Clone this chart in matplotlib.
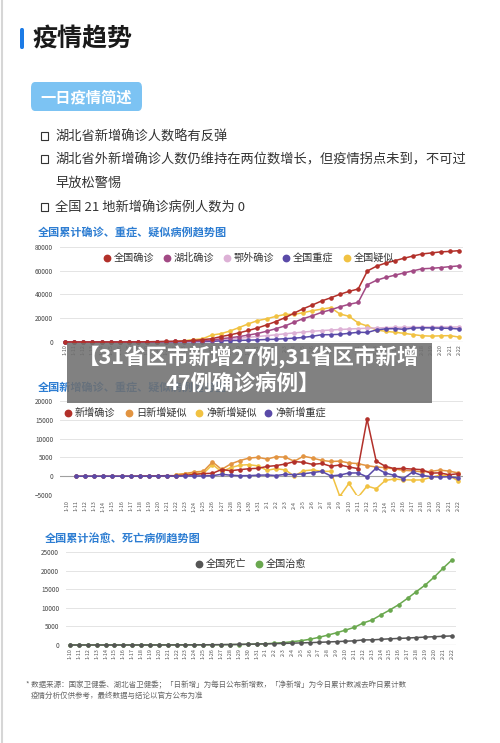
import matplotlib
matplotlib.use('Agg')
import matplotlib.pyplot as plt
from matplotlib.patches import FancyBboxPatch, Rectangle
from matplotlib.lines import Line2D
import numpy as np

plt.rcParams['font.family'] = ['Noto Sans CJK SC', 'DejaVu Sans']

nan = np.nan
dates = ['1-10', '1-11', '1-12', '1-13', '1-14', '1-15', '1-16', '1-17', '1-18', '1-19', '1-20',
         '1-21', '1-22', '1-23', '1-24', '1-25', '1-26', '1-27', '1-28', '1-29', '1-30', '1-31',
         '2-1', '2-2', '2-3', '2-4', '2-5', '2-6', '2-7', '2-8', '2-9', '2-10', '2-11',
         '2-12', '2-13', '2-14', '2-15', '2-16', '2-17', '2-18', '2-19', '2-20', '2-21', '2-22']

# Chart 1: cumulative
national_confirmed = [41, 41, 41, 41, 41, 41, 45, 62, 121, 198, 291, 440, 571, 830, 1287, 1975, 2744, 4515,
                      5974, 7711, 9692, 11791, 14380, 17205, 20438, 24324, 28018, 31161, 34546, 37198,
                      40171, 42638, 44653, 59804, 63851, 66492, 68500, 70548, 72436, 74185, 75002,
                      75891, 76288, 76936]
hubei_confirmed = [41, 41, 41, 41, 41, 41, 45, 62, 121, 198, 270, 375, 444, 549, 729, 1052, 1423, 2714,
                   3554, 4586, 5806, 7153, 9074, 11177, 13522, 16678, 19665, 22112, 24953, 27100,
                   29631, 31728, 33366, 48206, 51986, 54406, 56249, 58182, 59989, 61682, 62031,
                   62662, 63454, 64084]
outside_confirmed = [0, 0, 0, 0, 0, 0, 0, 0, 0, 0, 21, 65, 127, 281, 558, 923, 1321, 1801, 2420, 3125,
                     3886, 4638, 5306, 6028, 6916, 7646, 8353, 9049, 9593, 10098, 10540, 10910, 11287,
                     11598, 11865, 12086, 12251, 12366, 12447, 12503, 12540, 12570, 12600, 12620]
national_severe = [0, 0, 0, 0, 0, 0, 0, 0, 0, 0, 35, 102, 95, 177, 237, 324, 461, 976, 1239, 1370,
                   1527, 1795, 2110, 2296, 2788, 3219, 3859, 4821, 6101, 6188, 6484, 7333, 8204,
                   8030, 10204, 11053, 11272, 10644, 11741, 11977, 11864, 11633, 11477, 10968]
national_suspected = [nan, nan, nan, nan, nan, nan, nan, nan, nan, nan, nan, nan, 393, 1072, 1965,
                      2684, 5794, 6973, 9239, 12167, 15238, 17988, 19544, 21558, 23214, 23260,
                      24702, 26359, 27657, 28942, 23589, 21675, 16067, 13435, 10109, 8969, 8228,
                      7264, 6242, 5248, 4922, 5206, 5365, 4148]

# Chart 2: daily
new_confirmed = [nan, 0, 0, 0, 0, 0, 4, 17, 59, 77, 93, 149, 131, 259, 457, 688, 769, 1771, 1459,
                 1737, 1981, 2099, 2589, 2825, 3233, 3886, 3694, 3143, 3385, 2652, 2973, 2467,
                 2015, 15152, 4047, 2641, 2008, 2048, 1888, 1749, 817, 889, 397, 648]
new_suspected_daily = [nan, nan, nan, nan, nan, nan, nan, nan, nan, nan, nan, nan, 393, 680, 1118,
                       1309, 3806, 1800, 3248, 4148, 4812, 5019, 4562, 5173, 5072, 3971, 5328, 4833,
                       4214, 3916, 4008, 3536, 3342, 2807, 2450, 2277, 1918, 1563, 1432, 1185, 1277,
                       1614, 1361, 882]
net_new_suspected = [nan, nan, nan, nan, nan, nan, nan, nan, nan, nan, nan, nan, 393, 679, 893, 719,
                     3110, 1179, 2266, 2928, 3071, 2750, 1556, 2014, 1656, 46, 1442, 1657, 1298,
                     1285, -5353, -1914, -5608, -2632, -3326, -1140, -741, -964, -1022, -994,
                     -326, 284, 159, -1217]
net_new_severe = [nan, 0, 0, 0, 0, 0, 0, 0, 0, 0, 35, 67, -7, 82, 60, 87, 137, 515, 263, 131, 157,
                  268, 315, 186, 492, 431, 640, 962, 1280, 87, 296, 849, 871, -174, 2174, 849,
                  219, -628, 1097, 236, -113, -231, -156, -509]

# Chart 3: deaths / recoveries
national_deaths = [1, 1, 1, 1, 1, 1, 2, 2, 3, 3, 6, 9, 17, 25, 41, 56, 80, 106, 132, 170, 213, 259,
                   304, 361, 425, 490, 563, 636, 722, 811, 908, 1016, 1113, 1367, 1380, 1523, 1665,
                   1770, 1868, 2004, 2118, 2236, 2345, 2442]
national_recovered = [0, 0, 0, 0, 2, 5, 5, 7, 7, 10, 25, 25, 28, 34, 38, 49, 51, 60, 103, 124, 171,
                      243, 328, 475, 632, 892, 1153, 1540, 2050, 2649, 3281, 3996, 4740, 5911, 6723,
                      8096, 9419, 10844, 12552, 14376, 16155, 18264, 20659, 22888]

W, H = 500, 743
fig = plt.figure(figsize=(W / 100, H / 100), dpi=100)
fig.patch.set_facecolor('white')


def fx(x):
    return x / W


def fy(y):
    return 1 - y / H


def make_axes(x0, x1, ytop, ybot, first_px, last_px, ymin, ymax_tick, ymax_px, n=44):
    ax = fig.add_axes([fx(x0), fy(ybot), (x1 - x0) / W, (ybot - ytop) / H])
    step = (last_px - first_px) / (n - 1)
    ax.set_xlim(-(first_px - x0) / step, (n - 1) + (x1 - last_px) / step)
    per_px = (ymax_tick - ymin) / (ybot - ymax_px)
    ax.set_ylim(ymin, ymax_tick + (ymax_px - ytop) * per_px)
    for s in ax.spines.values():
        s.set_visible(False)
    ax.set_facecolor('none')
    ax.grid(axis='y', color='#e4e4e4', lw=0.7)
    ax.set_axisbelow(True)
    ax.tick_params(axis='both', length=0, colors='#444444')
    ax.tick_params(axis='y', labelsize=4.6, pad=5)
    ax.set_xticks(range(n))
    ax.set_xticklabels(dates, rotation=90, fontsize=3.9, color='#555555')
    return ax


xs = np.arange(len(dates))


def series(ax, y, color, clip=False, z=3):
    ax.plot(xs, y, color=color, lw=1.1, marker='o', ms=2.3, clip_on=clip, zorder=z)


def legend_item(x, y, color, label):
    fig.add_artist(Line2D([fx(x)], [fy(y)], marker='o', ms=4.6, color=color, linestyle='none',
                          transform=fig.transFigure))
    fig.text(fx(x + 7), fy(y), label, fontsize=7.3, color='#333333', va='center', ha='left')


# Left border
fig.add_artist(Line2D([fx(1.5), fx(1.5)], [0, 1], color='#d6d6d6', lw=1.5, transform=fig.transFigure))

# Header
fig.add_artist(FancyBboxPatch((fx(20), fy(49)), 4 / W, 21 / H, boxstyle='round,pad=0,rounding_size=0.003',
                              transform=fig.transFigure, fc='#1c7be6', ec='none'))
fig.text(fx(32), fy(39), '疫情趋势', fontsize=18, fontweight='bold', color='#1a1a1a', va='center')

fig.add_artist(FancyBboxPatch((fx(31), fy(111)), 111 / W, 29 / H, boxstyle='round,pad=0,rounding_size=0.008',
                              transform=fig.transFigure, fc='#7cc3f3', ec='none'))
fig.text(fx(86.5), fy(97), '一日疫情简述', fontsize=11, fontweight='bold', color='white', va='center', ha='center')

bullets = [(137, '湖北省新增确诊人数略有反弹', True),
           (160, '湖北省外新增确诊人数仍维持在两位数增长，但疫情拐点未到，不可过', True),
           (183, '早放松警惕', False),
           (208, '全国 21 地新增确诊病例人数为 0', True)]
for yy, txt, box in bullets:
    if box:
        fig.add_artist(Rectangle((fx(42), fy(yy + 3.5)), 7 / W, 7 / H, transform=fig.transFigure,
                                 fc='#444444', ec='none'))
        fig.add_artist(Rectangle((fx(41), fy(yy + 2.5)), 7 / W, 7 / H, transform=fig.transFigure,
                                 fc='white', ec='#333333', lw=0.8))
    fig.text(fx(55), fy(yy), txt, fontsize=9.5, color='#333333', va='center')

title_color = '#2d7dd2'

# Chart 1
fig.text(fx(38), fy(232), '全国累计确诊、重症、疑似病例趋势图', fontsize=8, fontweight='bold',
         color=title_color, va='center')
ax1 = make_axes(60, 463, 243, 342, 65, 459, 0, 80000, 247)
ax1.set_yticks([0, 20000, 40000, 60000, 80000])
ax1.axhline(0, color='#a0a0a0', lw=0.8, zorder=1)
ax1.tick_params(axis='x', pad=1.5)
series(ax1, national_suspected, '#f1c242')
series(ax1, outside_confirmed, '#ddb1d6')
series(ax1, national_severe, '#5a4aa8')
series(ax1, hubei_confirmed, '#a24a85')
series(ax1, national_confirmed, '#b2302a')
for x, c, lab in [(107, '#b2302a', '全国确诊'), (167, '#a24a85', '湖北确诊'), (227, '#ddb1d6', '鄂外确诊'),
                  (286, '#5a4aa8', '全国重症'), (347, '#f1c242', '全国疑似')]:
    legend_item(x, 258, c, lab)

# Chart 2
fig.text(fx(38), fy(387), '全国新增确诊、重症、疑似病例趋势图', fontsize=8, fontweight='bold',
         color=title_color, va='center')
ax2 = make_axes(60, 463, 398, 495, 67, 458, -5000, 20000, 401)
ax2.set_yticks([-5000, 0, 5000, 10000, 15000, 20000])
ax2.axhline(0, color='#a0a0a0', lw=0.8, zorder=1)
ax2.tick_params(axis='x', pad=4)
series(ax2, net_new_suspected, '#f1c242', clip=True)
series(ax2, new_suspected_daily, '#e29441', clip=True)
series(ax2, new_confirmed, '#b2302a', clip=True)
series(ax2, net_new_severe, '#5a4aa8', clip=True)
for x, c, lab in [(68, '#b2302a', '新增确诊'), (129, '#e29441', '日新增疑似'), (199, '#f1c242', '净新增疑似'),
                  (268, '#5a4aa8', '净新增重症')]:
    legend_item(x, 413, c, lab)

# Chart 3
fig.text(fx(45), fy(539), '全国累计治愈、死亡病例趋势图', fontsize=8, fontweight='bold',
         color=title_color, va='center')
ax3 = make_axes(66, 456, 549, 645, 70, 452, 0, 25000, 552)
ax3.set_yticks([0, 5000, 10000, 15000, 20000, 25000])
ax3.axhline(0, color='#a0a0a0', lw=0.8, zorder=1)
ax3.tick_params(axis='x', pad=2)
series(ax3, national_recovered, '#6aa84f')
series(ax3, national_deaths, '#555555')
for x, c, lab in [(199, '#555555', '全国死亡'), (259, '#6aa84f', '全国治愈')]:
    legend_item(x, 564, c, lab)

# Footnote
fig.text(fx(26), fy(685), '* 数据来源：国家卫健委、湖北省卫健委；「日新增」为每日公布新增数，「净新增」为今日累计数减去昨日累计数',
         fontsize=5.4, color='#666666', va='center')
fig.text(fx(31), fy(696), '疫情分析仅供参考，最终数据与结论以官方公布为准', fontsize=5.4, color='#666666', va='center')

# Overlay banner
fig.add_artist(Rectangle((fx(67), fy(403)), 365 / W, 60 / H, transform=fig.transFigure,
                         fc='#707070', ec='none', alpha=0.88, zorder=10))
fig.text(fx(249), fy(357), '【31省区市新增27例,31省区市新增', fontsize=15.5, fontweight='bold', color='white',
         va='center', ha='center', zorder=11)
fig.text(fx(243), fy(383), '47例确诊病例】', fontsize=15.5, fontweight='bold', color='white',
         va='center', ha='center', zorder=11)

fig.savefig('out.png', dpi=100, facecolor='white')
